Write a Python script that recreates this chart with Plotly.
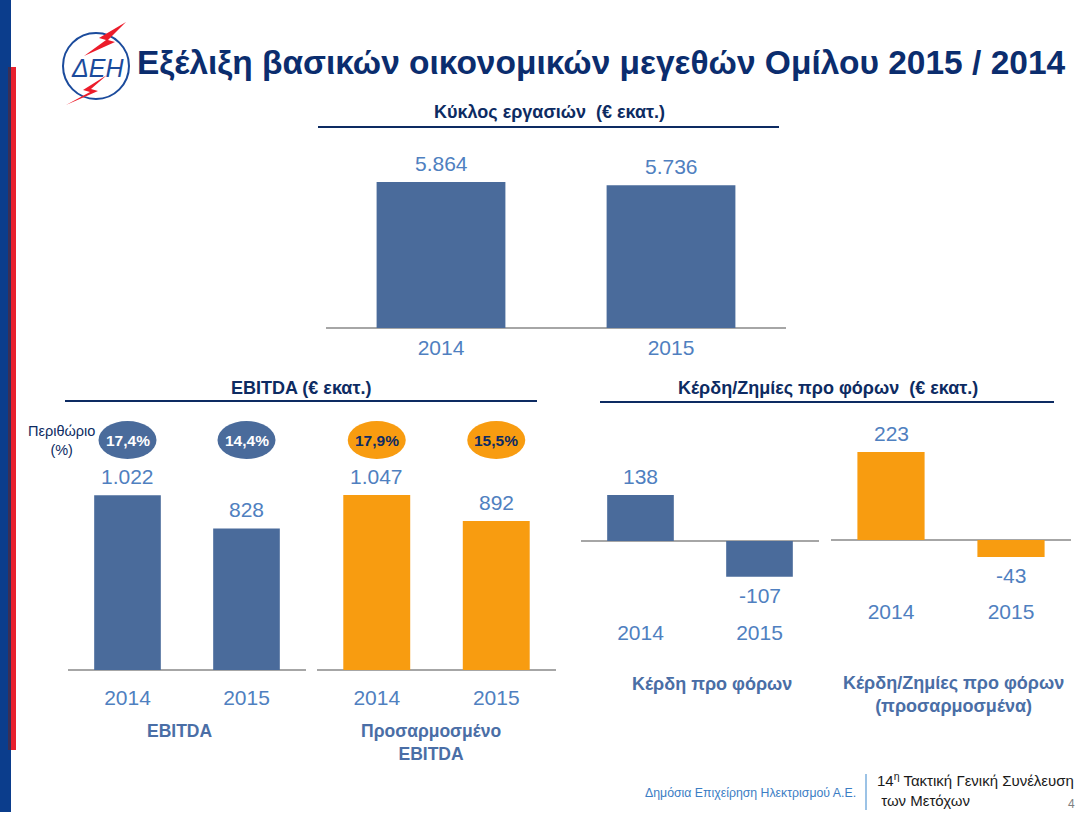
import plotly.graph_objects as go

# ---------------- data ----------------
years = ["2014", "2015"]
turnover = [5864, 5736]
ebitda = [1022, 828]
ebitda_adj = [1047, 892]
ebitda_margin = ["17,4%", "14,4%"]
ebitda_adj_margin = ["17,9%", "15,5%"]
pbt = [138, -107]
pbt_adj = [223, -43]

title_text = "Εξέλιξη βασικών οικονομικών μεγεθών Ομίλου 2015 / 2014"
head_turnover = "Κύκλος εργασιών  (€ εκατ.)"
head_ebitda = "EBITDA (€ εκατ.)"
head_pbt = "Κέρδη/Ζημίες προ φόρων  (€ εκατ.)"
lab_ebitda = "EBITDA"
lab_ebitda_adj = "Προσαρμοσμένο<br>EBITDA"
lab_pbt = "Κέρδη προ φόρων"
lab_pbt_adj = "Κέρδη/Ζημίες προ φόρων<br>(προσαρμοσμένα)"
margin_label = "Περιθώριο<br>(%)"
footer_left = "Δημόσια Επιχείρηση Ηλεκτρισμού Α.Ε."
footer_right = "14<sup>η</sup> Τακτική Γενική Συνέλευση<br> των Μετόχων"
page_no = "4"

# ---------------- styles ----------------
W, H = 1085, 814
FONT = "Arial, 'Liberation Sans', sans-serif"
BLUE = "#4a6b9b"
ORANGE = "#f89c10"
NAVY = "#0d2b62"
VAL = "#4f80c0"
AXIS = "#a6a6a6"
SUB = "#4a6ea6"


def px(x):
    return x / W


def py(y):
    return 1 - y / H


def fmt(v):
    return f"{v:,}".replace(",", ".")


fig = go.Figure()

# chart definitions: (axis suffix, values, color, x-domain px, y-domain px (bottom, top), y-range, standoff)
charts = [
    ("", turnover, BLUE, (326, 786), (328, 140), (0, 7550), 5),
    ("2", ebitda, BLUE, (68, 306), (670, 460), (0, 1228), 13),
    ("3", ebitda_adj, ORANGE, (317, 556), (670, 460), (0, 1257), 13),
    ("4", pbt, BLUE, (581, 819), (616, 460), (-225, 243), 2),
    ("5", pbt_adj, ORANGE, (831, 1071), (595, 420), (-139, 304), 2),
]

annotations = []
layout_axes = {}
for suf, vals, col, xd, yd, yr, stand in charts:
    xa = "x" + suf
    ya = "y" + suf
    fig.add_trace(go.Bar(
        x=years, y=vals, marker=dict(color=col, line=dict(width=0)),
        width=0.56, xaxis=xa, yaxis=ya, showlegend=False, hoverinfo="skip",
    ))
    layout_axes["xaxis" + suf] = dict(
        domain=[px(xd[0]), px(xd[1])], anchor=ya, type="category",
        range=[-0.5, 1.5], showgrid=False, showline=False, zeroline=False,
        ticks="", ticklabelstandoff=stand,
        tickfont=dict(size=21, color=VAL, family=FONT), fixedrange=True,
    )
    layout_axes["yaxis" + suf] = dict(
        domain=[py(yd[0]), py(yd[1])], anchor=xa, range=list(yr),
        showgrid=False, showticklabels=False, showline=False,
        zeroline=True, zerolinecolor=AXIS, zerolinewidth=1.5, fixedrange=True,
    )
    for i, v in enumerate(vals):
        annotations.append(dict(
            x=i, y=v, xref=xa, yref=ya, text=fmt(v), showarrow=False,
            yanchor="bottom" if v >= 0 else "top",
            yshift=5 if v >= 0 else -5,
            font=dict(size=21, color=VAL, family=FONT),
        ))

fig.update_layout(**layout_axes)

# ---------------- shapes ----------------
shapes = []
# left stripes
shapes.append(dict(type="rect", xref="paper", yref="paper", x0=0, x1=px(11), y0=py(812), y1=py(0),
                   fillcolor="#0b3d8c", line=dict(width=0), layer="below"))
shapes.append(dict(type="rect", xref="paper", yref="paper", x0=px(8), x1=px(16), y0=py(750), y1=py(67),
                   fillcolor="#e8202e", line=dict(width=0), layer="below"))
shapes.append(dict(type="rect", xref="paper", yref="paper", x0=px(8), x1=px(11), y0=py(750), y1=py(67),
                   fillcolor="#3a2f55", line=dict(width=0), layer="below"))

# heading underlines
for x0, x1, y in [(318, 779, 127), (65, 537, 401), (600, 1054, 402)]:
    shapes.append(dict(type="line", xref="paper", yref="paper", x0=px(x0), x1=px(x1), y0=py(y), y1=py(y),
                       line=dict(color=NAVY, width=2)))

# footer separator
shapes.append(dict(type="line", xref="paper", yref="paper", x0=px(866), x1=px(866), y0=py(774), y1=py(810),
                   line=dict(color="#9cc3e6", width=2)))

# logo circle
shapes.append(dict(type="circle", xref="paper", yref="paper", x0=px(63), x1=px(129), y0=py(99), y1=py(33),
                   line=dict(color="#1b4b9c", width=2), fillcolor="white"))


def poly(points):
    s = "M " + " L ".join(f"{px(a):.5f},{py(b):.5f}" for a, b in points) + " Z"
    return s


bolt1 = [(126, 22), (99, 38), (106, 40), (84, 56), (115, 42), (108, 40)]
bolt2 = [(107, 75), (83, 90), (90, 92), (66, 105), (98, 91), (91, 89)]
for b in (bolt1, bolt2):
    shapes.append(dict(type="path", xref="paper", yref="paper", path=poly(b),
                       fillcolor="#ec1c2a", line=dict(width=0)))

# margin ellipses
for axis_x, labels, col, tcol in [("x2", ebitda_margin, BLUE, "white"),
                                  ("x3", ebitda_adj_margin, ORANGE, NAVY)]:
    for i, lab in enumerate(labels):
        shapes.append(dict(type="circle", xref=axis_x, yref="paper",
                           xsizemode="pixel", xanchor=i, x0=-29, x1=29,
                           ysizemode="pixel", yanchor=py(440), y0=-19, y1=19,
                           fillcolor=col, line=dict(width=0)))
        annotations.append(dict(x=i, y=py(440), xref=axis_x, yref="paper", text=f"<b>{lab}</b>",
                                showarrow=False, font=dict(size=15.5, color=tcol, family=FONT)))

# ---------------- texts ----------------
def ptext(x, y, text, size, color, xanchor="center", yanchor="middle", align="center"):
    annotations.append(dict(x=px(x), y=py(y), xref="paper", yref="paper", text=text, showarrow=False,
                            xanchor=xanchor, yanchor=yanchor, align=align,
                            font=dict(size=size, color=color, family=FONT)))


ptext(135, 62, f"<b>{title_text}</b>", 33.5, "#0b2d6e", xanchor="left")
ptext(97, 68, "<i>ΔΕΗ</i>", 25, "#1b4b9c")
ptext(549, 112, f"<b>{head_turnover}</b>", 18, NAVY)
ptext(301, 388, f"<b>{head_ebitda}</b>", 18, NAVY)
ptext(828, 388, f"<b>{head_pbt}</b>", 18, NAVY)
ptext(61, 441, margin_label, 14.5, NAVY)
ptext(180, 731, f"<b>{lab_ebitda}</b>", 17.5, SUB)
ptext(431, 742, f"<b>{lab_ebitda_adj}</b>", 17.5, SUB)
ptext(712, 684, f"<b>{lab_pbt}</b>", 18, SUB)
ptext(953, 694, f"<b>{lab_pbt_adj}</b>", 18, SUB)
ptext(858, 793, footer_left, 12.3, "#3b7dc4", xanchor="right")
ptext(875, 789, footer_right, 15, "#1a1a1a", xanchor="left", align="left")
ptext(1077, 804, page_no, 12, "#7f7f7f", xanchor="right")

fig.update_layout(
    width=W, height=H, margin=dict(l=0, r=0, t=0, b=0),
    paper_bgcolor="white", plot_bgcolor="rgba(0,0,0,0)",
    shapes=shapes, annotations=annotations,
    font=dict(family=FONT), showlegend=False,
)

fig.write_html("out.html", config={"displayModeBar": False},
               post_script="document.body.style.margin='0';")
